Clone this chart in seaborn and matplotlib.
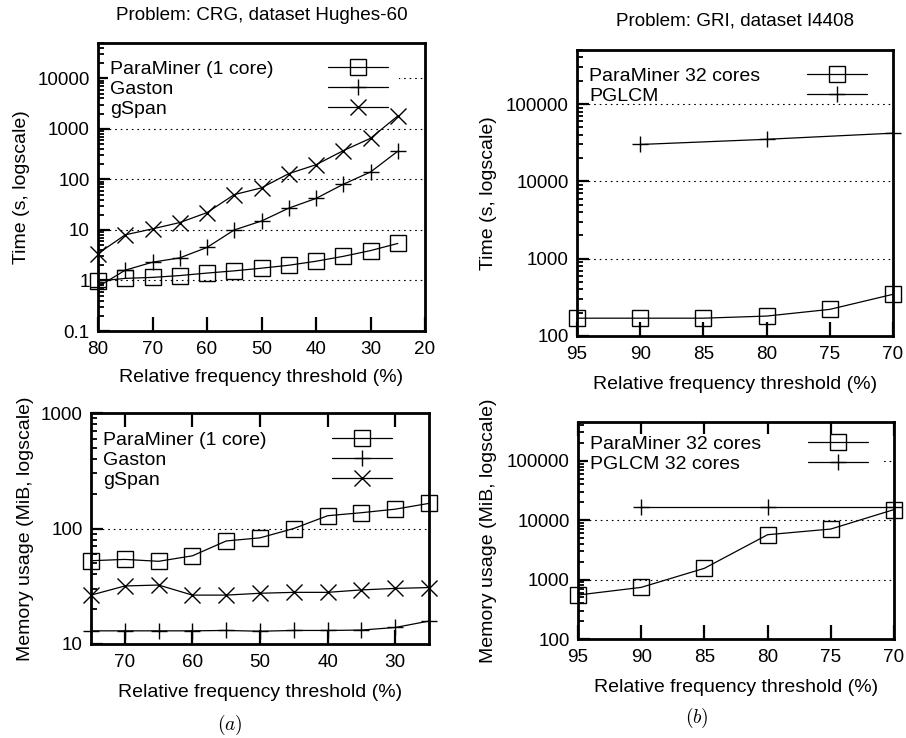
"""
Runtime / memory comparison of ParaMiner vs. graph miners (gnuplot-like look).
"""
import numpy as np
import matplotlib
matplotlib.use("Agg")
import matplotlib.pyplot as plt
import seaborn as sns
from matplotlib.ticker import FixedLocator, FuncFormatter, LogLocator, NullFormatter

# ─────────────────────────────────────────────
# Data
# ─────────────────────────────────────────────
# (a) problem CRG, dataset Hughes-60
crg_time_thr = [80, 75, 70, 65, 60, 55, 50, 45, 40, 35, 30, 25]
crg_time_paraminer = [0.97, 1.1, 1.15, 1.25, 1.4, 1.55, 1.75, 2.0, 2.4, 3.0, 3.9, 5.4]
crg_time_gaston = [0.75, 1.6, 2.3, 2.8, 4.5, 10, 15, 27, 42, 80, 140, 360]
crg_time_gspan = [3.4, 8, 10.5, 14, 22, 50, 68, 130, 195, 370, 650, 1800]

crg_mem_thr = [75, 70, 65, 60, 55, 50, 45, 40, 35, 30, 25]
crg_mem_paraminer = [52.6, 54, 52, 58, 78, 83, 100, 129, 137, 147, 165]
crg_mem_gaston = [13.0, 13.0, 13.0, 13.0, 13.1, 12.9, 13.1, 13.1, 13.2, 13.9, 15.8]
crg_mem_gspan = [26.5, 31.8, 32.4, 26.5, 26.5, 27.5, 28, 28, 29.4, 30.3, 30.8]

# (b) problem GRI, dataset I4408
gri_thr = [95, 90, 85, 80, 75, 70]
gri_time_paraminer = [170, 170, 170, 181, 221, 346]
gri_pglcm_thr = [90, 80, 70]
gri_time_pglcm = [30000, 35000, 42000]
gri_mem_paraminer = [550, 740, 1550, 5700, 7100, 15100]
gri_mem_pglcm = [17000, 17000, 17000]

# ─────────────────────────────────────────────
# Style
# ─────────────────────────────────────────────
sns.set_theme(style="white", rc={
    'axes.edgecolor': 'black',
    'axes.linewidth': 2.0,
    'xtick.color': 'black',
    'ytick.color': 'black',
    'text.color': 'black',
    'axes.labelcolor': 'black',
    'mathtext.fontset': 'cm',
})
plt.rcParams['font.family'] = ['Liberation Sans', 'DejaVu Sans']

FS = 14          # labels / key
TFS = 13.6       # tick labels / titles
W, H = 906, 738
SQUARE = dict(marker='s', markersize=11, markerfacecolor='none')
PLUS = dict(marker='+', markersize=11)
CROSS = dict(marker='x', markersize=11)

fig = plt.figure(figsize=(W / 100, H / 100), dpi=100)


def px_axes(x0, y0, x1, y1):
    # axes box given in figure pixels (top-left origin)
    return fig.add_axes([x0 / W, 1 - y1 / H, (x1 - x0) / W, (y1 - y0) / H])


def series(ax, x, y, label, style):
    sns.lineplot(x=x, y=y, ax=ax, color='black', linewidth=0.9, label=label,
                 markeredgecolor='black', markeredgewidth=1.0, clip_on=False,
                 legend=False, **style)


def gp_key(ax, text_dx, row_dy, handle_x, key_w, opaque=True):
    """gnuplot-like key: left-aligned labels, samples stacked on the right."""
    handles = [h for h in ax.get_lines() if not h.get_label().startswith('_')]
    labels = [h.get_label() for h in handles]
    pos = ax.get_position()
    aw, ah = pos.width * W, pos.height * H
    fs_px = FS * 100 / 72
    bp = 0.1
    x0 = (text_dx - bp * fs_px) / aw
    y1 = 1 - (row_dy - bp * fs_px - 0.43 * fs_px) / ah
    common = dict(loc='upper left', borderaxespad=0, borderpad=bp, labelspacing=0.11,
                  fontsize=FS, fancybox=False)
    txt = ax.legend(handles, labels, bbox_to_anchor=(x0, 0, key_w - x0, y1),
                    mode='expand', handlelength=0, handletextpad=0,
                    frameon=opaque, facecolor='white', edgecolor='none', framealpha=1, **common)
    for h in txt.legend_handles:
        h.set_visible(False)
    txt.set_zorder(1)
    ax.add_artist(txt)
    hx0 = (handle_x - bp * fs_px) / aw
    smp = ax.legend(handles, labels, bbox_to_anchor=(hx0, 0, 0.3, y1),
                    handlelength=60 / fs_px, handletextpad=0, frameon=False, **common)
    for t in smp.get_texts():
        t.set_alpha(0)


def style_axes(ax, xlim, xticks, ylim, top_ticks):
    ax.set_yscale('log')
    ax.set_xlim(*xlim)
    ax.set_ylim(*ylim)
    ax.xaxis.set_major_locator(FixedLocator(xticks))
    ax.xaxis.set_major_formatter(FuncFormatter(lambda v, p: f'{v:g}'))
    ax.yaxis.set_major_locator(LogLocator(base=10, numticks=12))
    ax.yaxis.set_minor_locator(LogLocator(base=10, subs=np.arange(2, 10), numticks=12))
    ax.yaxis.set_major_formatter(FuncFormatter(lambda v, p: f'{v:g}'))
    ax.yaxis.set_minor_formatter(NullFormatter())
    ax.tick_params(axis='x', which='major', direction='in', length=10, width=1.6,
                   top=top_ticks, bottom=True, labelsize=TFS, pad=7)
    ax.tick_params(axis='x', which='minor', bottom=False, top=False)
    ax.tick_params(axis='y', which='major', direction='in', length=8.5, width=1.6,
                   left=True, right=False, labelsize=TFS, pad=6)
    ax.tick_params(axis='y', which='minor', direction='in', length=4.5, width=1.3,
                   left=True, right=False)
    # dotted grid at interior decades, kept under the key
    lo, hi = ylim
    for v in 10.0 ** np.arange(np.floor(np.log10(lo)) + 1, np.ceil(np.log10(hi))):
        ax.axhline(v, color='black', linewidth=0.8, linestyle=(0, (1.5, 3.5)), zorder=0.8)
    for s in ax.spines.values():
        s.set_zorder(3)


def labels(ax, ylab, ylab_x, xlab_y):
    ax.set_xlabel("Relative frequency threshold (%)", fontsize=FS)
    ax.set_ylabel(ylab, fontsize=FS)
    ax.yaxis.set_label_coords(ylab_x, 0.5)
    ax.xaxis.set_label_coords(0.5, xlab_y)


# ─────────────────────────────────────────────
# (a) top: runtime CRG
# ─────────────────────────────────────────────
ax1 = px_axes(98, 43, 425, 331)
series(ax1, crg_time_thr, crg_time_paraminer, "ParaMiner (1 core)", SQUARE)
series(ax1, crg_time_thr, crg_time_gaston, "Gaston", PLUS)
series(ax1, crg_time_thr, crg_time_gspan, "gSpan", CROSS)
style_axes(ax1, (80, 20), [80, 70, 60, 50, 40, 30, 20], (0.1, 50000), False)
labels(ax1, "Time (s, logscale)", -0.208, -0.132)
ax1.text(0.5, 1.095, "Problem: CRG, dataset Hughes-60", transform=ax1.transAxes,
         ha='center', va='center', fontsize=TFS)
gp_key(ax1, 12, 26, 230, 0.92)

# ─────────────────────────────────────────────
# (b) top: runtime GRI
# ─────────────────────────────────────────────
ax2 = px_axes(577, 50, 893, 336)
series(ax2, gri_thr, gri_time_paraminer, "ParaMiner 32 cores", SQUARE)
series(ax2, gri_pglcm_thr, gri_time_pglcm, "PGLCM", PLUS)
style_axes(ax2, (95, 70), [95, 90, 85, 80, 75, 70], (100, 500000), False)
labels(ax2, "Time (s, logscale)", -0.253, -0.140)
ax2.text(0.5, 1.101, "Problem: GRI, dataset I4408", transform=ax2.transAxes,
         ha='center', va='center', fontsize=TFS)
gp_key(ax2, 12, 26, 230, 0.93, opaque=False)

# ─────────────────────────────────────────────
# (a) bottom: memory CRG
# ─────────────────────────────────────────────
ax3 = px_axes(91, 413, 429, 644)
series(ax3, crg_mem_thr, crg_mem_paraminer, "ParaMiner (1 core)", SQUARE)
series(ax3, crg_mem_thr, crg_mem_gaston, "Gaston", PLUS)
series(ax3, crg_mem_thr, crg_mem_gspan, "gSpan", CROSS)
style_axes(ax3, (75, 25), [70, 60, 50, 40, 30], (10, 1000), True)
labels(ax3, "Memory usage (MiB, logscale)", -0.17, -0.173)
gp_key(ax3, 12, 27, 241, 0.93)

# ─────────────────────────────────────────────
# (b) bottom: memory GRI
# ─────────────────────────────────────────────
ax4 = px_axes(578, 422, 894, 639)
series(ax4, gri_thr, gri_mem_paraminer, "ParaMiner 32 cores", SQUARE)
series(ax4, gri_pglcm_thr, gri_mem_pglcm, "PGLCM 32 cores", PLUS)
style_axes(ax4, (95, 70), [95, 90, 85, 80, 75, 70], (100, 450000), True)
labels(ax4, "Memory usage (MiB, logscale)", -0.256, -0.184)
gp_key(ax4, 12, 22, 230, 0.96)

fig.text(230 / W, 1 - 725 / H, r'$(a)$', ha='center', va='center', fontsize=FS)
fig.text(697 / W, 1 - 718 / H, r'$(b)$', ha='center', va='center', fontsize=FS)

fig.savefig("out.png", dpi=100, facecolor='white')
